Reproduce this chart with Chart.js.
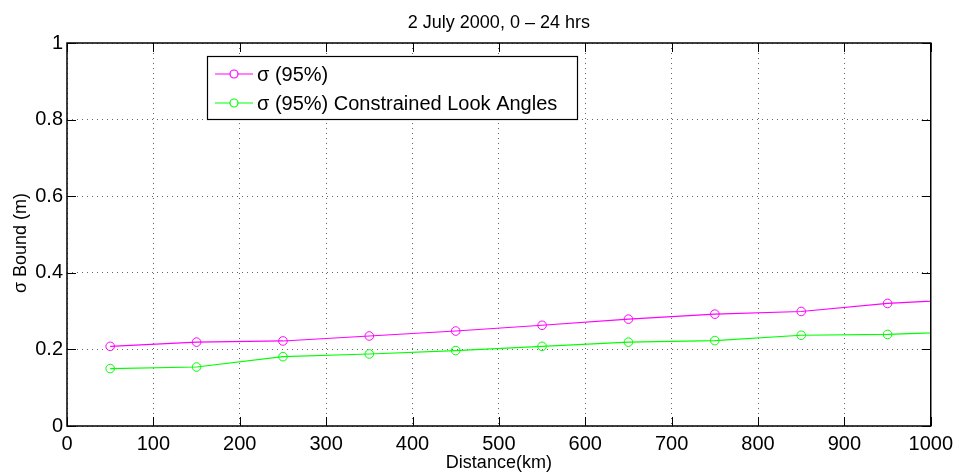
<!DOCTYPE html>
<html>
<head>
<meta charset="utf-8">
<script src="https://cdn.jsdelivr.net/npm/chart.js@4"></script>
<style>
  html, body { margin: 0; padding: 0; background: #fff; }
  #wrap { width: 959px; height: 472px; position: relative; }
</style>
</head>
<body>
<div id="wrap"><canvas id="c" width="959" height="472"></canvas></div>
<script>
// ---- data ----
const distances = [50, 150, 250, 350, 450, 550, 650, 750, 850, 950, 1050];
const sigma95 = [0.208, 0.219, 0.222, 0.235, 0.248, 0.263, 0.279, 0.292, 0.299, 0.320, 0.332];
const sigma95Constrained = [0.150, 0.154, 0.181, 0.188, 0.197, 0.208, 0.219, 0.223, 0.237, 0.239, 0.247];
const seriesNames = ['\u03c3 (95%)', '\u03c3 (95%) Constrained Look Angles'];
const seriesColors = ['#ff00ff', '#00ff00'];
const xTicks = [0, 100, 200, 300, 400, 500, 600, 700, 800, 900, 1000];
const yTicks = [0, 0.2, 0.4, 0.6, 0.8, 1];
const chartTitle = '2 July 2000, 0 \u2013 24 hrs';
const xTitle = 'Distance(km)';
const yTitle = '\u03c3 Bound (m)';

const FONT = '"Liberation Sans", Arial, Helvetica, sans-serif';

function toPoints(xs, ys) { return xs.map((x, i) => ({ x: x, y: ys[i] })); }

const decorPlugin = {
  id: 'decor',
  afterDraw(chart) {
    const ctx = chart.ctx;
    const a = chart.chartArea;
    const xs = chart.scales.x, ys = chart.scales.y;
    ctx.save();
    // frame
    ctx.strokeStyle = '#000';
    ctx.lineWidth = 1.5;
    ctx.strokeRect(a.left, a.top, a.right - a.left, a.bottom - a.top);
    // inward ticks on all sides
    ctx.lineWidth = 1;
    const tl = 9;
    ctx.beginPath();
    xTicks.forEach(v => {
      const px = Math.round(xs.getPixelForValue(v)) + 0.5;
      ctx.moveTo(px, a.bottom); ctx.lineTo(px, a.bottom - tl);
      ctx.moveTo(px, a.top); ctx.lineTo(px, a.top + tl);
    });
    yTicks.forEach(v => {
      const py = Math.round(ys.getPixelForValue(v)) + 0.5;
      ctx.moveTo(a.left, py); ctx.lineTo(a.left + tl, py);
      ctx.moveTo(a.right, py); ctx.lineTo(a.right - tl, py);
    });
    ctx.stroke();

    // title
    ctx.fillStyle = '#000';
    ctx.font = '18px ' + FONT;
    ctx.textAlign = 'center';
    ctx.textBaseline = 'alphabetic';
    ctx.fillText(chartTitle, (a.left + a.right) / 2, 28);
    // x title
    ctx.fillText(xTitle, (a.left + a.right) / 2, 468);
    // y title
    ctx.save();
    ctx.translate(26, 243);
    ctx.rotate(-Math.PI / 2);
    ctx.fillText(yTitle, 0, 0);
    ctx.restore();

    // legend box
    const lx = 207, ly = 56, lw = 370, lh = 63;
    ctx.fillStyle = '#fff';
    ctx.fillRect(lx, ly, lw, lh);
    ctx.strokeStyle = '#000';
    ctx.lineWidth = 1.2;
    ctx.strokeRect(lx + 0.5, ly + 0.5, lw, lh);
    const rows = [74, 103];
    ctx.font = '20px ' + FONT;
    ctx.textAlign = 'left';
    ctx.textBaseline = 'middle';
    seriesNames.forEach((name, i) => {
      const y = rows[i];
      ctx.strokeStyle = seriesColors[i];
      ctx.lineWidth = 1.2;
      ctx.beginPath();
      ctx.moveTo(215, y); ctx.lineTo(253, y);
      ctx.stroke();
      ctx.beginPath();
      ctx.arc(234, y, 4, 0, Math.PI * 2);
      ctx.fillStyle = '#fff';
      ctx.fill();
      ctx.stroke();
      ctx.fillStyle = '#000';
      ctx.fillText(name, 257, y + 1);
    });
    ctx.restore();
  }
};

const mk = (i, ys) => ({
  label: seriesNames[i],
  data: toPoints(distances, ys),
  borderColor: seriesColors[i],
  backgroundColor: 'rgba(0,0,0,0)',
  borderWidth: 1.2,
  pointRadius: 4.3,
  pointBorderWidth: 1,
  pointBorderColor: seriesColors[i],
  pointBackgroundColor: 'rgba(0,0,0,0)',
  tension: 0,
  clip: 0
});

const gridOpts = { color: 'rgba(0,0,0,0.6)', lineWidth: 1, drawTicks: false };
const borderOpts = { display: false, dash: [1, 4] };

new Chart(document.getElementById('c'), {
  type: 'line',
  data: { datasets: [mk(0, sigma95), mk(1, sigma95Constrained)] },
  plugins: [decorPlugin],
  options: {
    responsive: false,
    animation: false,
    events: [],
    layout: { padding: { left: 0, top: 43, right: 26, bottom: 0 } },
    plugins: { legend: { display: false }, title: { display: false }, tooltip: { enabled: false } },
    scales: {
      x: {
        type: 'linear',
        min: 0, max: 1000,
        afterBuildTicks: s => { s.ticks = xTicks.map(v => ({ value: v })); },
        afterFit: s => { s.height = 46; },
        grid: gridOpts,
        border: borderOpts,
        ticks: { color: '#000', font: { family: FONT, size: 20 }, padding: 6, maxRotation: 0, autoSkip: false,
                 callback: v => String(v) }
      },
      y: {
        type: 'linear',
        min: 0, max: 1,
        afterBuildTicks: s => { s.ticks = yTicks.map(v => ({ value: v })); },
        afterFit: s => { s.width = 67; },
        grid: gridOpts,
        border: borderOpts,
        ticks: { color: '#000', font: { family: FONT, size: 20 }, padding: 4, autoSkip: false,
                 callback: v => String(v) }
      }
    }
  }
});
</script>
</body>
</html>
